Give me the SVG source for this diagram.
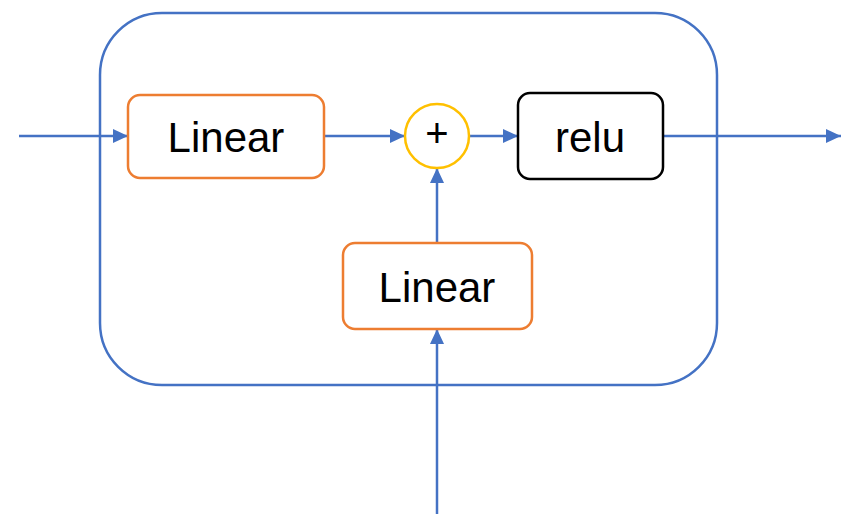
<svg xmlns="http://www.w3.org/2000/svg" width="841" height="514" viewBox="0 0 841 514">
  <style>
    .wire { stroke: #4472C4; stroke-width: 2.5; fill: none; }
    .box { fill: #FFFFFF; stroke-width: 2.5; }
    .orange { stroke: #ED7D31; }
    .label { font-family: "Liberation Sans", Arial, sans-serif; font-size: 42px; fill: #000; text-anchor: middle; }
    .plus { font-family: "Liberation Sans", Arial, sans-serif; font-size: 40px; fill: #000; text-anchor: middle; }
  </style>
  <defs>
    <marker id="arrow" viewBox="0 0 15 14" refX="15" refY="7" markerWidth="15" markerHeight="14" markerUnits="userSpaceOnUse" orient="auto">
      <path d="M0,0 L15,7 L0,14 Z" fill="#4472C4"/>
    </marker>
  </defs>

  <!-- enclosing block -->
  <g id="block">
    <rect x="100" y="13" width="617" height="372" rx="62" ry="62" fill="none" stroke="#4472C4" stroke-width="2.5"/>
  </g>

  <!-- connectors -->
  <g id="connectors">
    <line class="wire" x1="19" y1="136" x2="128" y2="136" marker-end="url(#arrow)"/>
    <line class="wire" x1="324" y1="136" x2="405" y2="136" marker-end="url(#arrow)"/>
    <line class="wire" x1="469" y1="136" x2="518" y2="136" marker-end="url(#arrow)"/>
    <line class="wire" x1="663" y1="136" x2="841" y2="136" marker-end="url(#arrow)"/>
    <line class="wire" x1="437" y1="243" x2="437" y2="168" marker-end="url(#arrow)"/>
    <line class="wire" x1="437" y1="514" x2="437" y2="329" marker-end="url(#arrow)"/>
  </g>

  <g id="linear1">
    <rect class="box orange" x="128" y="95" width="196" height="83" rx="12" ry="12"/>
    <text class="label" x="226" y="152">Linear</text>
  </g>

  <g id="add">
    <circle cx="437" cy="136" r="32" fill="#FFFFFF" stroke="#FFC000" stroke-width="2.5"/>
    <text class="plus" x="437" y="147">+</text>
  </g>

  <g id="relu">
    <rect class="box" stroke="#000000" x="518" y="93" width="145" height="86" rx="12" ry="12"/>
    <text class="label" x="590" y="152">relu</text>
  </g>

  <g id="linear2">
    <rect class="box orange" x="343" y="243" width="189" height="86" rx="12" ry="12"/>
    <text class="label" x="437" y="302">Linear</text>
  </g>
</svg>
